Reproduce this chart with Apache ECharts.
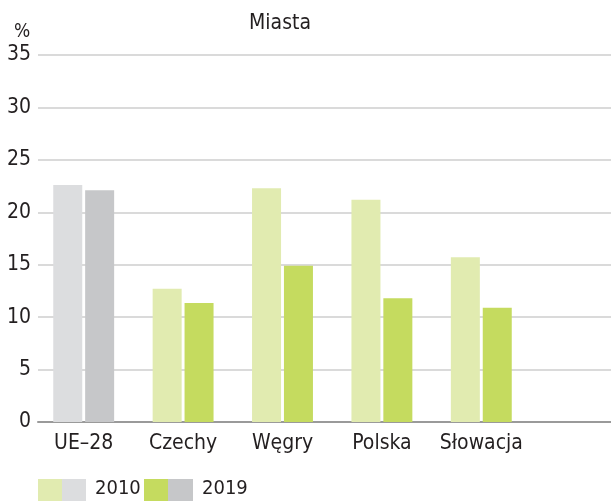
<!DOCTYPE html>
<html>
<head>
<meta charset="utf-8">
<script src="https://cdn.jsdelivr.net/npm/echarts@6/dist/echarts.min.js"></script>
<style>
  html, body { margin: 0; padding: 0; background: #fff; }
  #chart { width: 611px; height: 501px; }
</style>
</head>
<body>
<div id="chart"></div>
<script>
// Udział (%) – miasta, lata 2010 i 2019
const categories = ['UE–28', 'Czechy', 'Węgry', 'Polska', 'Słowacja'];
const values2010 = [22.6, 12.7, 22.3, 21.2, 15.7];
const values2019 = [22.1, 11.35, 14.9, 11.8, 10.9];
const yTicks = [0, 5, 10, 15, 20, 25, 30, 35];
const seriesNames = ['2010', '2019'];
const chartTitle = 'Miasta';
const unitLabel = '%';

const FONT = '"Liberation Sans Narrow", "DejaVu Sans Condensed", "Liberation Sans", sans-serif';
const TEXT = '#231f20';
const COLORS = {
  '2010': { eu: '#dcdddf', other: '#e1ebb0' },
  '2019': { eu: '#c6c7c9', other: '#c5db5f' }
};
const EU_INDEX = 0;

function styled(values, year) {
  return values.map((v, i) => ({
    value: v,
    itemStyle: { color: i === EU_INDEX ? COLORS[year].eu : COLORS[year].other }
  }));
}

const chart = echarts.init(document.getElementById('chart'), null, { renderer: 'canvas' });

const option = {
  animation: false,
  textStyle: { fontFamily: FONT },
  grid: [
    // siatka z osią wartości (pełna szerokość)
    { left: 38, right: 0, top: 55, bottom: 79 },
    // obszar słupków
    { left: 34, width: 497, top: 55, bottom: 79 }
  ],
  xAxis: [
    {
      gridIndex: 0, type: 'value', min: 0, max: 1,
      axisLine: { show: true, onZero: false, lineStyle: { color: '#9a9a9a', width: 2 } },
      axisTick: { show: false }, axisLabel: { show: false }, splitLine: { show: false }
    },
    {
      gridIndex: 1, type: 'category', data: categories,
      axisLine: { show: false }, axisTick: { show: false },
      axisLabel: { color: TEXT, fontSize: 21, fontFamily: FONT, margin: 11, interval: 0 }
    }
  ],
  yAxis: [
    {
      gridIndex: 0, type: 'value',
      min: yTicks[0], max: yTicks[yTicks.length - 1], interval: 5,
      axisLine: { show: false }, axisTick: { show: false },
      axisLabel: { color: TEXT, fontSize: 21, fontFamily: FONT, margin: 7 },
      splitLine: { lineStyle: { color: '#dadada', width: 2 } }
    },
    {
      gridIndex: 1, type: 'value',
      min: yTicks[0], max: yTicks[yTicks.length - 1],
      show: false, splitLine: { show: false }
    }
  ],
  series: [
    {
      name: seriesNames[0], type: 'bar', xAxisIndex: 1, yAxisIndex: 1,
      data: styled(values2010, '2010'), barWidth: 29, barGap: '10%'
    },
    {
      name: seriesNames[1], type: 'bar', xAxisIndex: 1, yAxisIndex: 1,
      data: styled(values2019, '2019'), barWidth: 29, barGap: '10%'
    }
  ],
  graphic: [
    { type: 'text', x: 280, y: 13,
      style: { text: chartTitle, font: '21px ' + FONT, fill: TEXT, textAlign: 'center' } },
    { type: 'text', x: 22, y: 23,
      style: { text: unitLabel, font: '19px ' + FONT, fill: TEXT, textAlign: 'center' } },
    // legenda
    { type: 'rect', shape: { x: 38, y: 479, width: 24, height: 22 }, style: { fill: COLORS['2010'].other } },
    { type: 'rect', shape: { x: 62, y: 479, width: 24, height: 22 }, style: { fill: COLORS['2010'].eu } },
    { type: 'text', x: 95, y: 479,
      style: { text: seriesNames[0], font: '20px ' + FONT, fill: TEXT } },
    { type: 'rect', shape: { x: 144, y: 479, width: 24, height: 22 }, style: { fill: COLORS['2019'].other } },
    { type: 'rect', shape: { x: 168, y: 479, width: 25, height: 22 }, style: { fill: COLORS['2019'].eu } },
    { type: 'text', x: 202, y: 479,
      style: { text: seriesNames[1], font: '20px ' + FONT, fill: TEXT } }
  ]
};

chart.setOption(option);
</script>
</body>
</html>
